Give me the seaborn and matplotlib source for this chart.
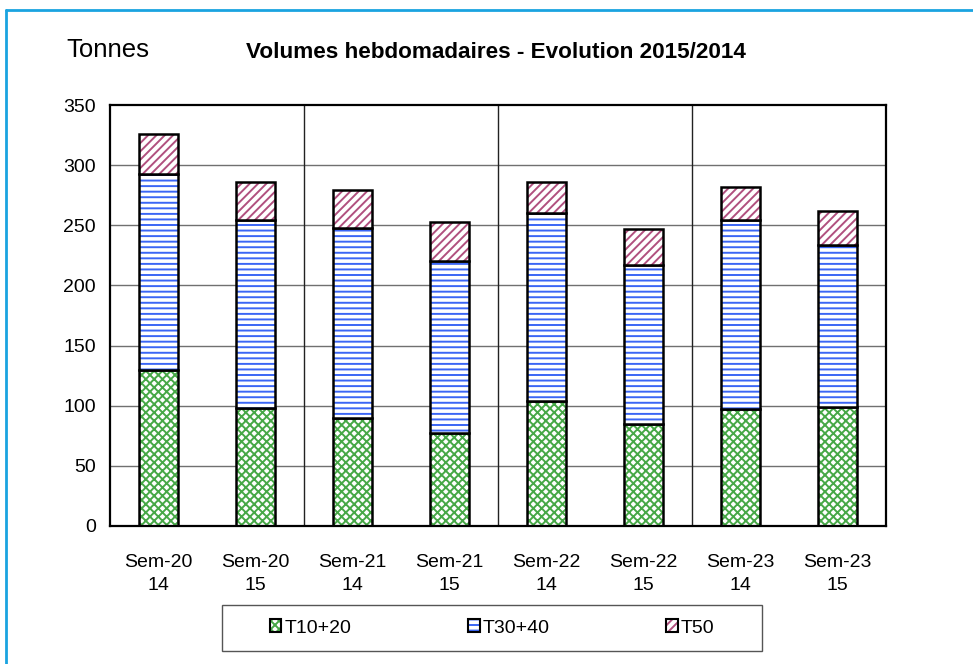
import matplotlib
matplotlib.use("Agg")
import matplotlib.pyplot as plt
from matplotlib.patches import Patch
from matplotlib.lines import Line2D
import seaborn as sns

# data
semaines = ["Sem-20\n14", "Sem-20\n15", "Sem-21\n14", "Sem-21\n15",
            "Sem-22\n14", "Sem-22\n15", "Sem-23\n14", "Sem-23\n15"]
t10_20 = [130, 98, 90, 77, 104, 85, 97, 99]
t30_40 = [163, 156, 158, 143, 156, 132, 157, 135]
t50 = [33, 32, 31, 33, 26, 30, 28, 28]
series_names = ["T10+20", "T30+40", "T50"]

sns.set_style("white")
plt.rcParams["font.family"] = ["Liberation Sans", "DejaVu Sans"]
plt.rcParams["hatch.linewidth"] = 1.4
plt.rcParams["text.color"] = "black"
plt.rcParams["xtick.labelcolor"] = "black"
plt.rcParams["ytick.labelcolor"] = "black"

fig = plt.figure(figsize=(9.73, 6.64), dpi=100)
ax = fig.add_axes([110 / 973, 138 / 664, 776 / 973, 421 / 664])

hatch_colors = ["#47a847", "#3b66f5", "#b0507f"]
hatches = ["xxxx", "---", "////"]

bottom1 = t10_20
bottom2 = [a + b for a, b in zip(t10_20, t30_40)]
layers = [(t10_20, [0] * 8), (t30_40, bottom1), (t50, bottom2)]

for (vals, bot), hc, h in zip(layers, hatch_colors, hatches):
    # hatched fill
    sns.barplot(x=semaines, y=vals, bottom=bot, ax=ax, width=0.4,
                color="white", edgecolor=hc, linewidth=0, hatch=h)
    # black outline on top
    sns.barplot(x=semaines, y=vals, bottom=bot, ax=ax, width=0.4,
                fill=False, color="black", linewidth=1.8)

ax.set_ylim(0, 350)
ax.set_xlim(-0.5, 7.5)
ax.set_yticks(range(0, 351, 50))
ax.tick_params(axis="y", labelsize=14, length=4, width=1, color="#555555",
               labelcolor="black", pad=6)

# labels sit on minor ticks, major ticks mark the week boundaries
ax.set_xticks([-0.5, 1.5, 3.5, 5.5, 7.5])
ax.set_xticklabels([])
ax.set_xticks(range(8), minor=True)
ax.set_xticklabels(semaines, minor=True, fontsize=14, linespacing=1.45, color="black")
ax.tick_params(axis="x", which="major", length=6, width=1, color="#555555", direction="out")
ax.tick_params(axis="x", which="minor", length=0, pad=20)
ax.set_xlabel("")
ax.set_ylabel("")

for y in range(50, 350, 50):
    ax.axhline(y, color="#707070", linewidth=1, zorder=0)
for x in [1.5, 3.5, 5.5]:
    ax.axvline(x, color="#222222", linewidth=1, zorder=0)

for s in ax.spines.values():
    s.set_visible(True)
    s.set_color("black")
    s.set_linewidth(1.6)

fig.text(66 / 973, 1 - 50 / 664, "Tonnes", fontsize=18.5, ha="left", va="center")
fig.text(496 / 973, 1 - 52 / 664, "Volumes hebdomadaires - Evolution 2015/2014",
         fontsize=16.2, fontweight="bold", ha="center", va="center")

# legend keys: hatched square + black outline laid over it
handles = []
for hc, h in zip(hatch_colors, ["xxxx", "---", "////"]):
    fill_key = Patch(facecolor="white", edgecolor=hc, hatch=h, linewidth=0)
    edge_key = Patch(facecolor="none", edgecolor="black", linewidth=1.5)
    handles.append((fill_key, edge_key))

leg = fig.legend(handles, series_names, loc="center", ncol=3,
                 bbox_to_anchor=(222 / 973, 13 / 664, 540 / 973, 46 / 664),
                 bbox_transform=fig.transFigure, fontsize=14, frameon=False,
                 handlelength=0.6, handleheight=0.6, handletextpad=0.15,
                 columnspacing=6, borderaxespad=0)
# legend frame drawn as a fixed box, like the reference
fig.add_artist(plt.Rectangle((222 / 973, 13 / 664), 540 / 973, 46 / 664,
                             transform=fig.transFigure, fill=False,
                             edgecolor="#555555", linewidth=1))

# light blue frame around the chart area (top and left edges visible)
fig.add_artist(Line2D([6 / 973, 1], [1 - 10 / 664, 1 - 10 / 664],
                      transform=fig.transFigure, color="#1aa3e0", linewidth=2))
fig.add_artist(Line2D([6 / 973, 6 / 973], [0, 1 - 10 / 664],
                      transform=fig.transFigure, color="#1aa3e0", linewidth=2))

fig.savefig("out.png", dpi=100)
